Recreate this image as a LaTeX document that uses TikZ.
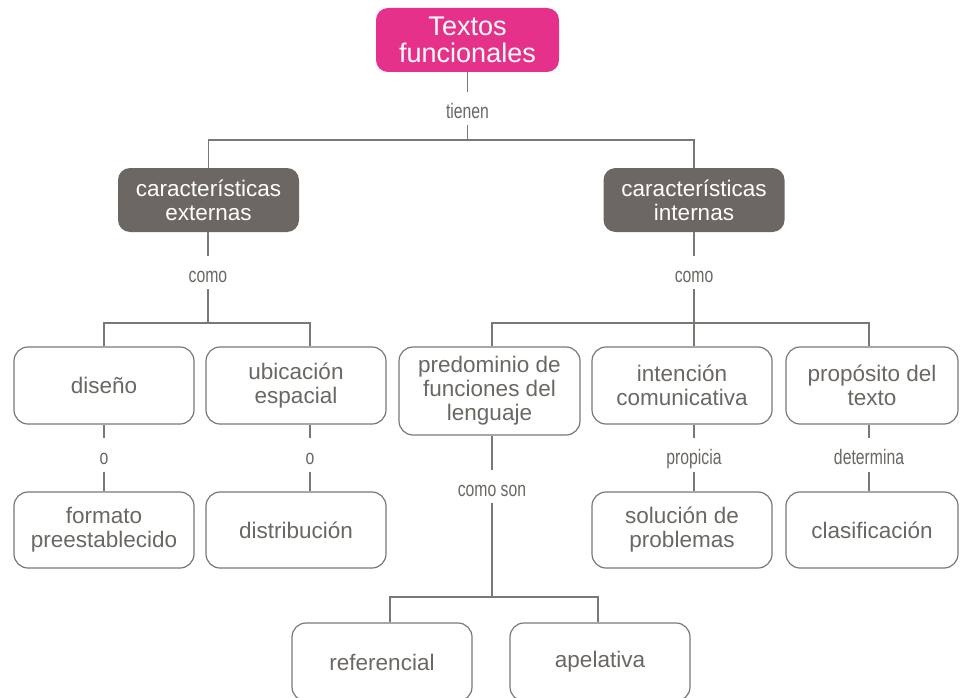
\documentclass[tikz,border=0pt]{standalone}
\usepackage{fontspec}
\setmainfont{Liberation Sans}
\newfontfamily\condfont[FakeStretch=0.75]{Liberation Sans}
\definecolor{pinkc}{HTML}{E5318A}
\definecolor{darkc}{HTML}{6C6762}
\definecolor{linec}{HTML}{7B7773}
\definecolor{textc}{HTML}{6B6762}
\newcommand\myMainFont{\fontsize{22.5}{24}\selectfont}
\newcommand\myTopFont{\fontsize{27}{27.5}\selectfont}
\newcommand\myLblFont{\condfont\fontsize{21}{22}\selectfont}
\tikzset{
  box/.style={draw=linec, line width=1.2pt, rounded corners=14pt, text=textc, align=center, font=\myMainFont, inner sep=0pt},
  darkbox/.style={fill=darkc, draw=none, rounded corners=12pt, text=white, align=center, font=\myMainFont, inner sep=0pt, minimum width=181pt, minimum height=64pt},
  topbox/.style={fill=pinkc, draw=none, rounded corners=12pt, text=white, align=center, font=\myTopFont, inner sep=0pt, minimum width=183pt, minimum height=64pt},
  lbl/.style={text=textc, font=\myLblFont, inner xsep=2pt, inner ysep=5pt, text height=21pt, text depth=2pt},
  conn/.style={draw=linec, line width=1.2pt},
  wide/.style={minimum width=180pt},
  narrow/.style={minimum width=172pt}
}
\begin{document}
\begin{tikzpicture}[x=1pt,y=-1pt]
\useasboundingbox (0,0) rectangle (963,698);
\clip (0,0) rectangle (963,698);
\fill[white] (0,0) rectangle (963,698);

% nodes
\node[topbox] (top) at (467.5,40) {Textos\\funcionales};
\node[darkbox] (darkL) at (208.5,200) {características\\externas};
\node[darkbox] (darkR) at (694,200) {características\\internas};

\node[box, wide, minimum height=77pt] (diseno) at (104,385.5) {diseño};
\node[box, wide, minimum height=77pt] (ubic) at (296,385.5) {ubicación\\espacial};
\node[box, minimum width=181pt, minimum height=88pt] (pred) at (489.5,391) {predominio de\\funciones del\\lenguaje};
\node[box, wide, minimum height=77pt] (inten) at (682,385.5) {intención\\comunicativa};
\node[box, narrow, minimum height=77pt] (prop) at (872,385.5) {propósito del\\texto};

\node[box, wide, minimum height=76pt] (formato) at (104,530) {formato\\preestablecido};
\node[box, wide, minimum height=76pt] (distr) at (296,530) {distribución};
\node[box, wide, minimum height=76pt] (soluc) at (682,530) {solución de\\problemas};
\node[box, narrow, minimum height=76pt] (clasif) at (872,530) {clasificación};

\node[box, wide, minimum height=78pt] (ref) at (382,662) {referencial};
\node[box, wide, minimum height=78pt] (apel) at (600,662) {apelativa};

% labels
\node[lbl] (tienen) at (467.5,108.5) {tienen};
\node[lbl] (comoL) at (208,272.5) {como};
\node[lbl] (comoR) at (694,272.5) {como};
\node[lbl] (oA) at (104,455) {o};
\node[lbl] (oB) at (310,455) {o};
\node[lbl] (propicia) at (694,455) {propicia};
\node[lbl] (determina) at (869,455) {determina};
\node[lbl] (comoson) at (492,486.5) {como son};

% junction coordinates
\coordinate (jT) at (467.5,140);
\coordinate (jL) at (208,323);
\coordinate (jLa) at (104,323);
\coordinate (jLb) at (310,323);
\coordinate (jR) at (694,323);
\coordinate (jRa) at (492,323);
\coordinate (jRc) at (869,323);
\coordinate (jB) at (492,597);
\coordinate (jBa) at (390,597);
\coordinate (jBb) at (598,597);

% connectors
\draw[conn] (top.south) -- (tienen.north);
\draw[conn] (tienen.south) -- (jT);
\draw[conn] (darkL.north) -- (darkL.north |- jT) -- (darkR.north |- jT) -- (darkR.north);

\draw[conn] (darkL.south -| jL) -- (comoL.north);
\draw[conn] (comoL.south) -- (jL);
\draw[conn] (jLa |- diseno.north) -- (jLa) -- (jLb) -- (jLb |- ubic.north);

\draw[conn] (darkR.south -| jR) -- (comoR.north);
\draw[conn] (comoR.south) -- (jR);
\draw[conn] (jRa |- pred.north) -- (jRa) -- (jRc) -- (jRc |- prop.north);
\draw[conn] (jR) -- (jR |- inten.north);

\draw[conn] (oA.north |- diseno.south) -- (oA.north);
\draw[conn] (oA.south) -- (oA.south |- formato.north);
\draw[conn] (oB.north |- ubic.south) -- (oB.north);
\draw[conn] (oB.south) -- (oB.south |- distr.north);
\draw[conn] (propicia.north |- inten.south) -- (propicia.north);
\draw[conn] (propicia.south) -- (propicia.south |- soluc.north);
\draw[conn] (determina.north |- prop.south) -- (determina.north);
\draw[conn] (determina.south) -- (determina.south |- clasif.north);

\draw[conn] (comoson.north |- pred.south) -- (comoson.north);
\draw[conn] (comoson.south) -- (jB);
\draw[conn] (jBa |- ref.north) -- (jBa) -- (jBb) -- (jBb |- apel.north);
\end{tikzpicture}
\end{document}
